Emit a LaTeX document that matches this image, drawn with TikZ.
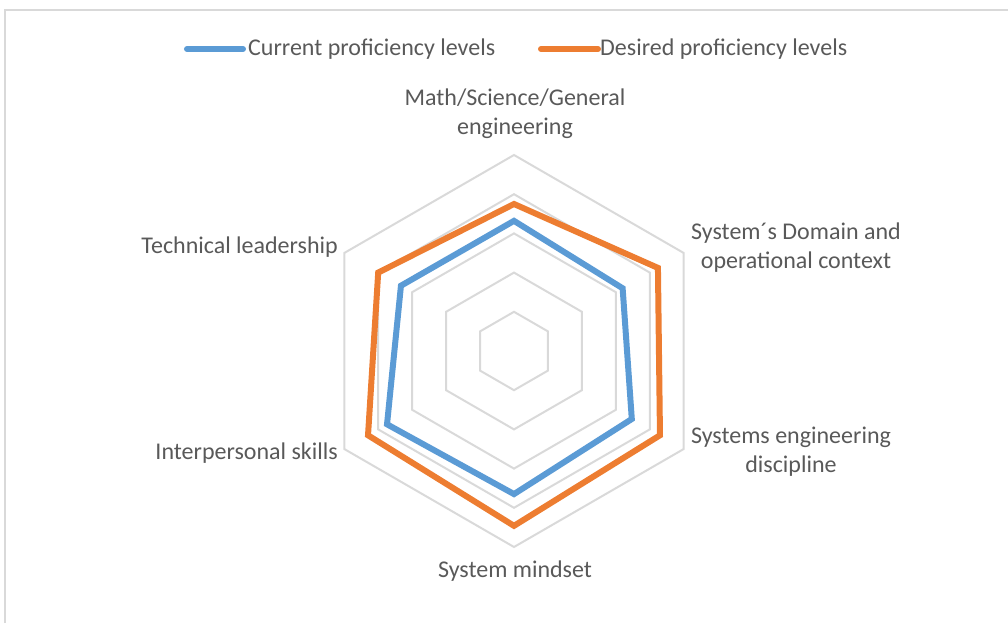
\documentclass[tikz,border=0pt]{standalone}
\usepackage{fontspec}
\setmainfont{Carlito}
\usepackage{tikz}

\definecolor{curblue}{HTML}{5B9BD5}
\definecolor{desorange}{HTML}{ED7D31}
\definecolor{gridgray}{HTML}{D9D9D9}
\definecolor{labelgray}{HTML}{595959}

\begin{document}
\begin{tikzpicture}[x=1pt,y=1pt]
    \tikzstyle{every node}=[font=\fontsize{24}{29}\selectfont, text=labelgray, inner sep=0pt]
    \tikzstyle{ring}=[draw=gridgray, line width=2pt]
    \tikzstyle{series}=[line width=6pt]
    \tikzstyle{legline}=[line width=6pt, line cap=round]
    \useasboundingbox (-514,-272) rectangle (494,351);

    % chart frame (only top and left edges are visible)
    \draw[gridgray, line width=2pt] (-509,-272) -- (-509,341) -- (494,341);

    % grid rings, 5 levels
    \foreach \lvl in {1,...,5}
        \draw[ring] (90:39.2*\lvl) -- (30:39.2*\lvl) -- (-30:39.2*\lvl)
            -- (-90:39.2*\lvl) -- (-150:39.2*\lvl) -- (150:39.2*\lvl) -- cycle;

    % desired proficiency levels
    \draw[series, desorange] (90:39.2*3.75) -- (30:39.2*4.24) -- (-30:39.2*4.30)
        -- (-90:39.2*4.46) -- (-150:39.2*4.30) -- (150:39.2*4.00) -- cycle;

    % current proficiency levels
    \draw[series, curblue] (90:39.2*3.32) -- (30:39.2*3.20) -- (-30:39.2*3.47)
        -- (-90:39.2*3.65) -- (-150:39.2*3.74) -- (150:39.2*3.33) -- cycle;

    % axis labels
    \node[align=center] (math) at (1,237) {Math/Science/General\\engineering};
    \node[align=center] (domain) at (282,103) {System´s Domain and\\operational context};
    \node[align=center] (disc) at (277,-101) {Systems engineering\\discipline};
    \node (mind) at (1,-220) {System mindset};
    \node[anchor=east] (inter) at (-176,-102) {Interpersonal skills};
    \node[anchor=east] (lead) at (-176,104) {Technical leadership};

    % legend
    \coordinate (curA) at (-327,302);
    \coordinate (curB) at (-271,302);
    \draw[legline, curblue] (curA) -- (curB);
    \node[anchor=west] (curtext) at (-266,302) {Current proficiency levels};
    \coordinate (desA) at (27,302);
    \coordinate (desB) at (84,302);
    \draw[legline, desorange] (desA) -- (desB);
    \node[anchor=west] (destext) at (86,302) {Desired proficiency levels};
\end{tikzpicture}
\end{document}
